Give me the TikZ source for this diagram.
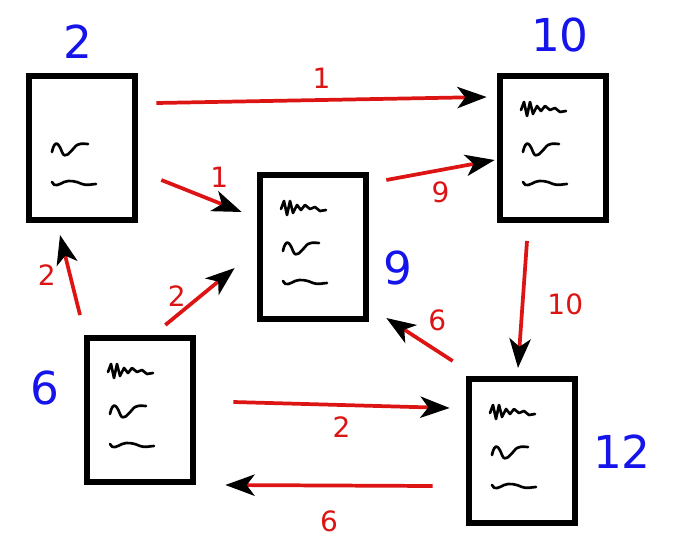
\documentclass[tikz,border=0pt]{standalone}
\usepackage{fontspec}
\setmainfont{DejaVu Sans}
\usetikzlibrary{arrows.meta}
\definecolor{numblue}{RGB}{20,20,235}
\definecolor{edgered}{RGB}{220,20,20}
\tikzset{
  page/.style={draw, line width=4.5pt, minimum width=80pt, minimum height=108pt, inner sep=0pt},
  rank/.style={text=numblue, font=\fontsize{34}{36}\selectfont},
  link/.style={edgered, line width=2.8pt, -{Stealth[color=black, length=22pt, width=16pt, inset=6pt]}},
  weight/.style={text=edgered, font=\fontsize{21}{24}\selectfont},
  scribble/.style={line width=2pt, line cap=round, line join=round}
}
\begin{document}
\begin{tikzpicture}[x=0.75pt, y=-0.75pt]
\useasboundingbox (0,0) rectangle (693,557);
\node[page] (p2) at (82,148) {};
\node[page] (p9) at (313,247) {};
\node[page] (p10) at (553,148) {};
\node[page] (p6) at (140,410) {};
\node[page] (p12) at (522,451) {};
\node[rank] (r2) at (78,42) {2};
\node[rank] (r10) at (560,35) {10};
\node[rank] (r9) at (398,268) {9};
\node[rank] (r6) at (45,388) {6};
\node[rank] (r12) at (622,452) {12};
% scribbles on the pages
\foreach \p/\cx/\cy/\top in {p2/82/148/0, p9/313/247/1, p10/553/148/1, p6/140/410/1, p12/522/451/1}{
  \ifnum\top=1
    \draw[scribble] (\cx-32,\cy-38) -- ++(3,-8) -- ++(3,14) -- ++(3,-14) -- ++(3,12) -- ++(4,-8) -- ++(4,5) -- ++(4,-5) -- ++(5,4) -- ++(5,-2) -- ++(5,4) -- ++(6,-1);
  \fi
  \draw[scribble] (\cx-30,\cy+4) .. controls +(3,-14) and +(-3,-8) .. ++(10,0) .. controls +(3,8) and +(-4,4) .. ++(12,-4) .. controls +(4,-6) and +(-4,0) .. ++(14,-4);
  \draw[scribble] (\cx-30,\cy+34) .. controls +(2,6) and +(-4,2) .. ++(12,0) .. controls +(5,-2) and +(-6,-3) .. ++(18,2) .. controls +(5,2) and +(-4,0) .. ++(14,0);
}
% links
\draw[link] ([shift={(18,-45)}]p2.east) -- ([shift={(-10,-51)}]p10.west) node[weight, midway, above=4pt] {1};
\draw[link] ([shift={(23,32)}]p2.east) -- ([shift={(-15,-35)}]p9.west) node[weight, midway, above right=2pt] {1};
\draw[link] ([shift={(17,-67)}]p9.east) -- ([shift={(-2,12)}]p10.west) node[weight, midway, below=4pt] {9};
\draw[link] ([shift={(-26,18)}]p10.south) -- ([shift={(-4,-8)}]p12.north) node[weight, midway, right=14pt] {10};
\draw[link] ([shift={(-13,-15)}]p12.north west) -- ([shift={(17,-4)}]p9.south east) node[weight, midway, above right=2pt] {6};
\draw[link] ([shift={(-60,-20)}]p6.north) -- ([shift={(-22,12)}]p2.south) node[weight, midway, left=6pt] {2};
\draw[link] ([shift={(-31,-10)}]p6.north east) -- ([shift={(-22,21)}]p9.west) node[weight, midway, left=6pt] {2};
\draw[link] ([shift={(37,-8)}]p6.east) -- ([shift={(-16,-43)}]p12.west) node[weight, midway, below=4pt] {2};
\draw[link] ([shift={(-33,35)}]p12.west) -- ([shift={(29,75)}]p6.east) node[weight, midway, below=14pt] {6};
\end{tikzpicture}
\end{document}
